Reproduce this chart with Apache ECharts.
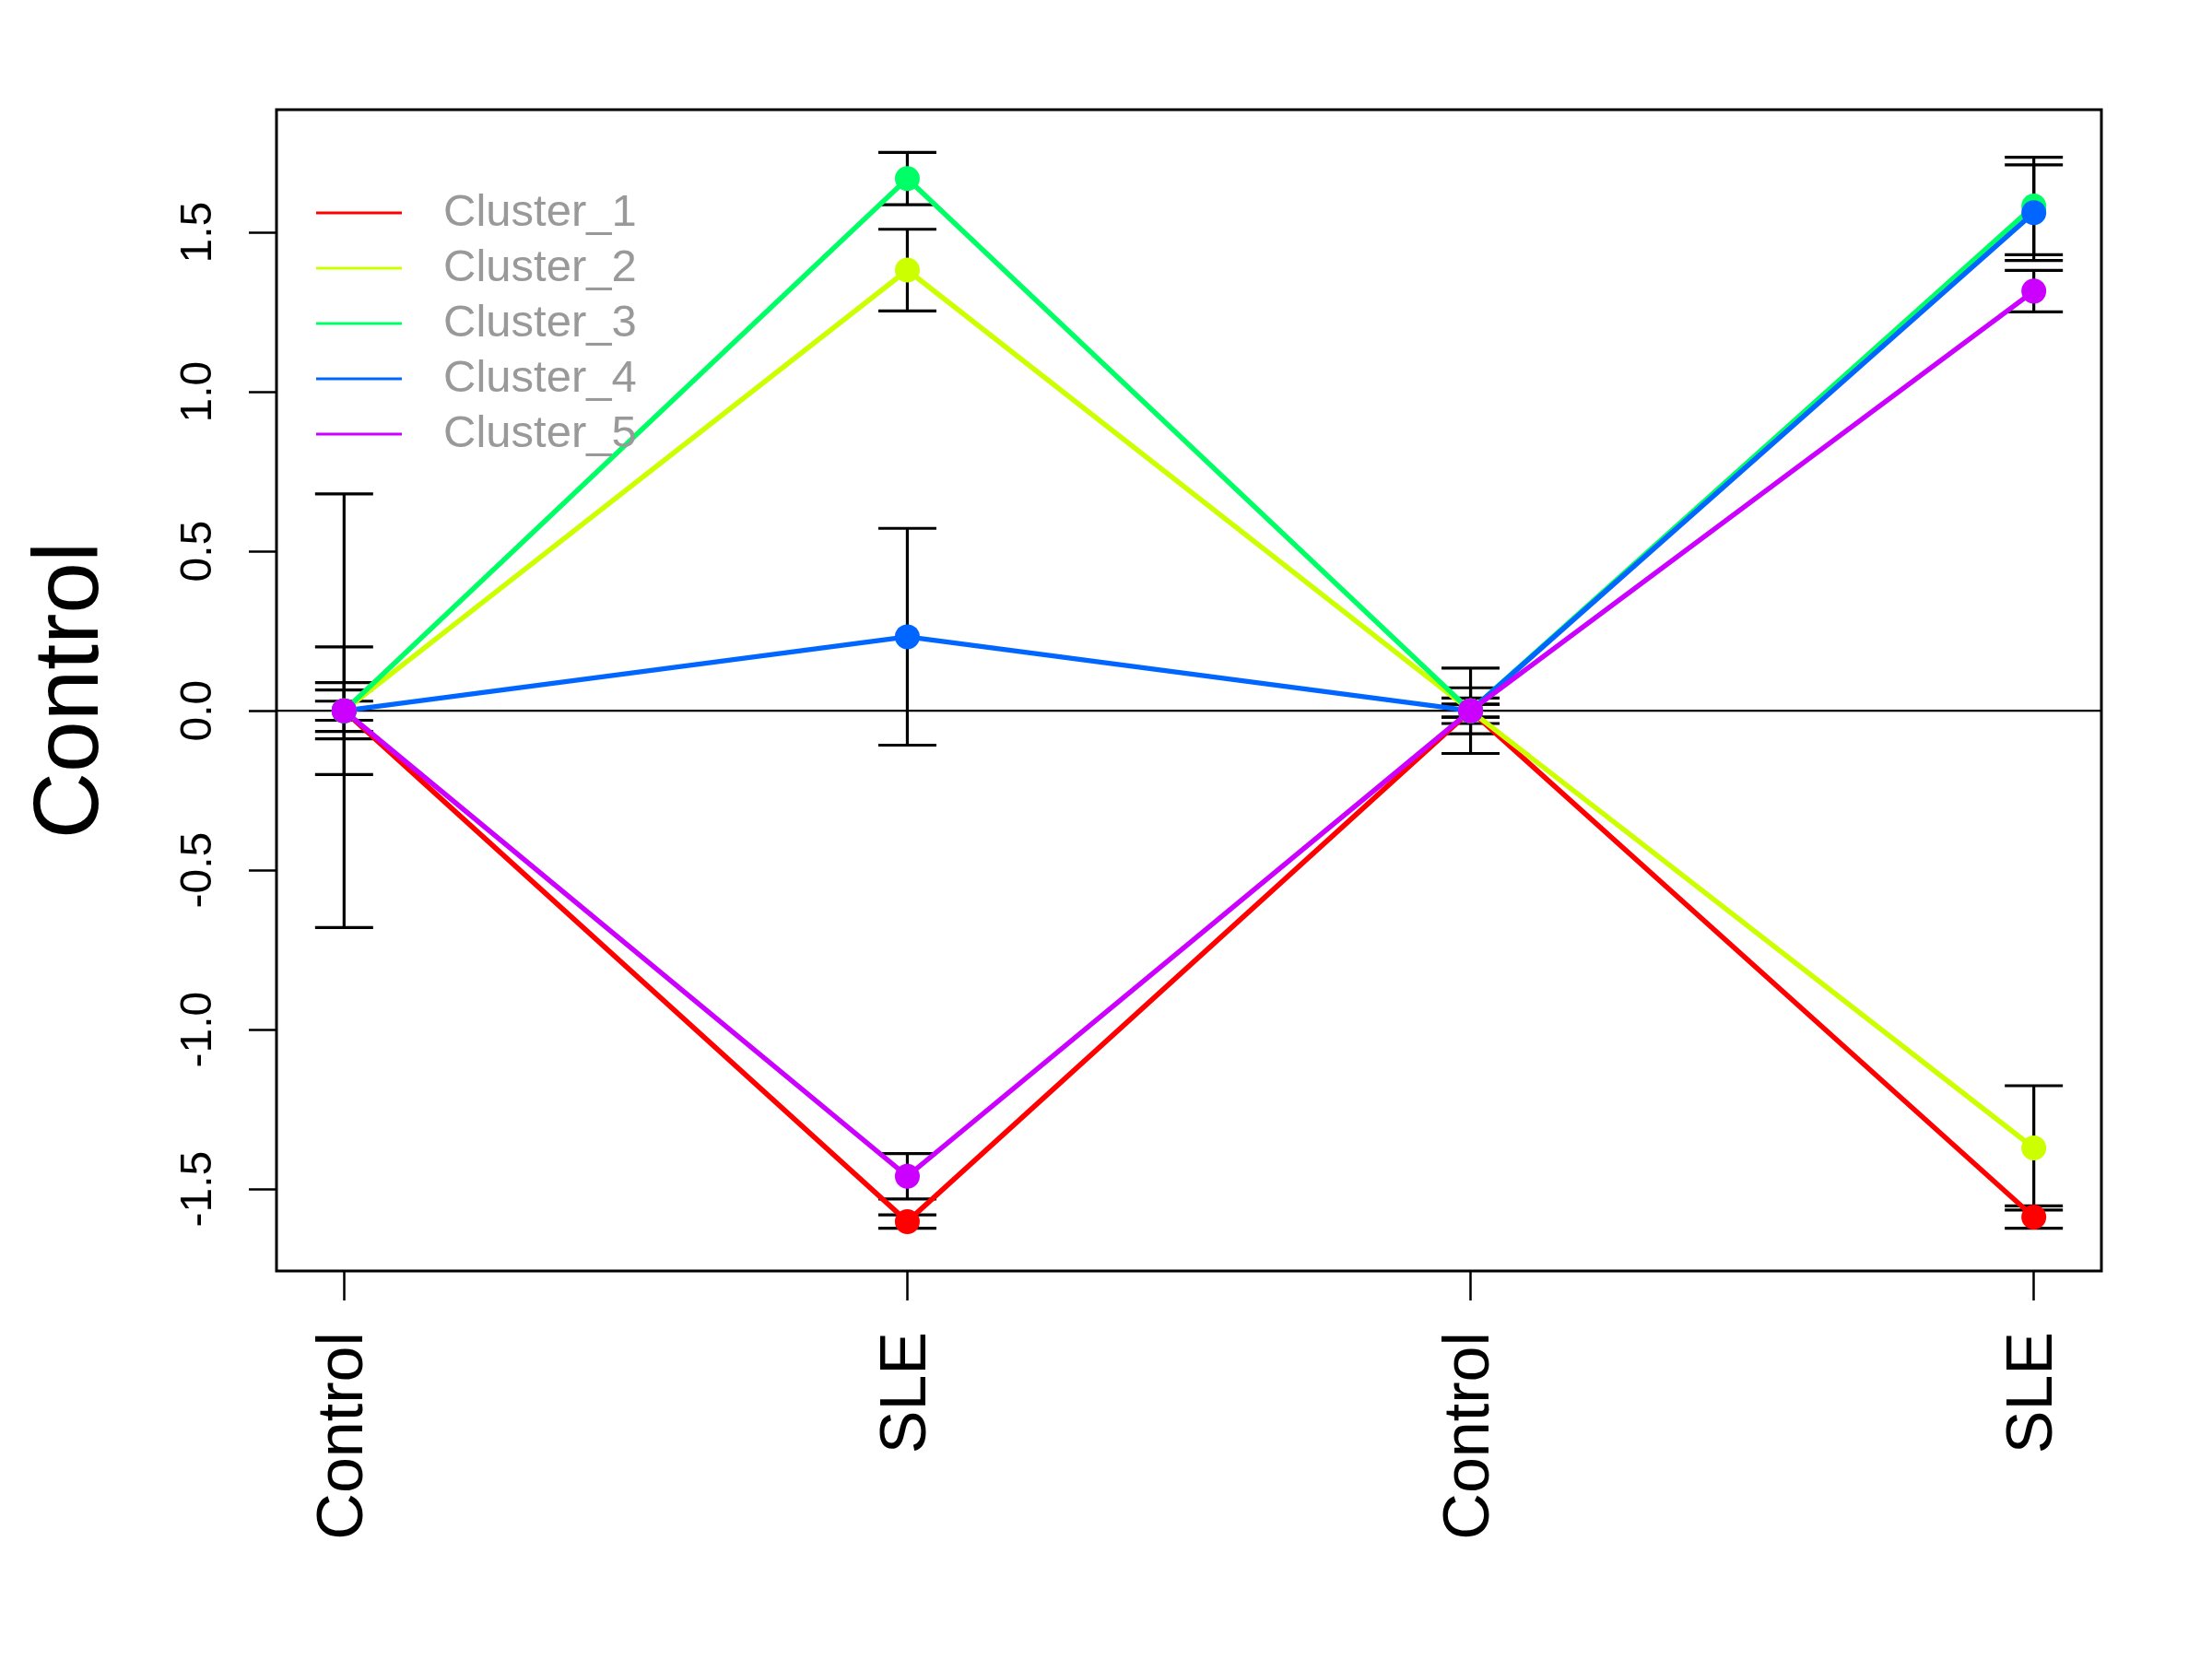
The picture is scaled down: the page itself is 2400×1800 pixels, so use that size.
<!DOCTYPE html>
<html>
<head>
<meta charset="utf-8">
<script src="https://cdn.jsdelivr.net/npm/echarts@6/dist/echarts.min.js"></script>
<style>
html,body{margin:0;padding:0;background:#fff;}
#chart{width:2400px;height:1800px;}
</style>
</head>
<body>
<div id="chart"></div>
<script>
// ---- data ----
const categories = ['Control', 'SLE', 'Control', 'SLE'];
const xPositions = [1, 2, 3, 4];
const clusterNames = ['Cluster_1', 'Cluster_2', 'Cluster_3', 'Cluster_4', 'Cluster_5'];
const clusterColors = ['#FF0000', '#CCFF00', '#00FF66', '#0066FF', '#CC00FF'];

const cluster1 = [0, -1.602, 0, -1.588];
const cluster2 = [0, 1.382, 0, -1.371];
const cluster3 = [0, 1.669, 0, 1.583];
const cluster4 = [0, 0.232, 0, 1.562];
const cluster5 = [0, -1.460, 0, 1.316];

const err1 = [0.03, 0.021, 0.02, 0.035];
const err2 = [0.20, 0.128, 0.072, 0.195];
const err3 = [0.088, 0.082, 0.04, 0.153];
const err4 = [0.68, 0.34, 0.134, 0.15];
const err5 = [0.065, 0.071, 0.02, 0.065];

const yTicks = [-1.5, -1.0, -0.5, 0.0, 0.5, 1.0, 1.5];
const yTitle = 'Control';
const xRange = [0.88, 4.12];
const yRange = [-1.757, 1.885];

const means = [cluster1, cluster2, cluster3, cluster4, cluster5];
const errs = [err1, err2, err3, err4, err5];

// ---- chart ----
const chart = echarts.init(document.getElementById('chart'), null, {renderer: 'canvas'});
const FONT = '"Liberation Sans", Arial, Helvetica, sans-serif';

function errRender(params, api) {
  const x = api.value(0), y = api.value(1), e = api.value(2);
  const top = api.coord([x, y + e]);
  const bot = api.coord([x, y - e]);
  const hw = 31.5;
  const st = {stroke: '#000', lineWidth: 3.2, fill: null};
  return {
    type: 'group',
    children: [
      {type: 'line', shape: {x1: top[0], y1: top[1], x2: bot[0], y2: bot[1]}, style: st},
      {type: 'line', shape: {x1: top[0] - hw, y1: top[1], x2: top[0] + hw, y2: top[1]}, style: st},
      {type: 'line', shape: {x1: bot[0] - hw, y1: bot[1], x2: bot[0] + hw, y2: bot[1]}, style: st}
    ]
  };
}

function zeroRender(params, api) {
  const a = api.coord([xRange[0], 0]);
  const b = api.coord([xRange[1], 0]);
  return {type: 'line', shape: {x1: a[0], y1: a[1], x2: b[0], y2: b[1]},
          style: {stroke: '#000', lineWidth: 2.2}};
}

const series = [];
errs.forEach((err, i) => {
  series.push({
    type: 'custom',
    name: 'err_' + (i + 1),
    renderItem: errRender,
    silent: true,
    z: 1,
    encode: {x: 0, y: 1},
    data: xPositions.map((x, j) => [x, means[i][j], err[j]])
  });
});
series.push({
  type: 'custom',
  name: 'zero',
  renderItem: zeroRender,
  silent: true,
  z: 1,
  encode: {x: 0, y: 1},
  data: [[xRange[0], 0]]
});
means.forEach((m, i) => {
  series.push({
    type: 'line',
    name: clusterNames[i],
    data: xPositions.map((x, j) => [x, m[j]]),
    symbol: 'circle',
    symbolSize: 27,
    showSymbol: true,
    z: 2,
    color: clusterColors[i],
    lineStyle: {width: 5.5, color: clusterColors[i]},
    itemStyle: {color: clusterColors[i], borderWidth: 0},
    emphasis: {disabled: true}
  });
});

chart.setOption({
  animation: false,
  backgroundColor: '#fff',
  grid: {
    left: 300, right: 120, top: 119, bottom: 421,
    show: true, borderColor: '#000', borderWidth: 3, backgroundColor: 'transparent'
  },
  legend: {
    data: clusterNames,
    orient: 'vertical',
    left: 338,
    top: 196,
    icon: 'rect',
    itemWidth: 93,
    itemHeight: 3,
    itemGap: 0,
    selectedMode: false,
    textStyle: {
      color: '#999999', fontSize: 49, fontFamily: FONT,
      lineHeight: 60, padding: [0, 0, 0, 40]
    }
  },
  xAxis: {
    type: 'value',
    min: xRange[0],
    max: xRange[1],
    axisLine: {show: false, onZero: false},
    splitLine: {show: false},
    axisTick: {
      show: true, length: 32, inside: false,
      customValues: xPositions,
      lineStyle: {color: '#000', width: 2.5}
    },
    axisLabel: {
      show: true,
      customValues: xPositions,
      rotate: 90,
      margin: 66,
      fontSize: 70,
      fontFamily: FONT,
      color: '#000',
      formatter: function (v) {
        const idx = xPositions.indexOf(Math.round(v));
        return idx >= 0 ? categories[idx] : '';
      }
    }
  },
  yAxis: {
    type: 'value',
    min: yRange[0],
    max: yRange[1],
    name: yTitle,
    nameLocation: 'middle',
    nameRotate: 90,
    nameGap: 172,
    nameTextStyle: {fontSize: 100, fontFamily: FONT, color: '#000'},
    axisLine: {show: false, onZero: false},
    splitLine: {show: false},
    axisTick: {
      show: true, length: 30, inside: false,
      customValues: yTicks,
      lineStyle: {color: '#000', width: 2.5}
    },
    axisLabel: {
      show: true,
      customValues: yTicks,
      rotate: 90,
      margin: 60,
      fontSize: 48,
      fontFamily: FONT,
      color: '#000',
      formatter: function (v) { return Number(v).toFixed(1); }
    }
  },
  series: series
});
</script>
</body>
</html>
